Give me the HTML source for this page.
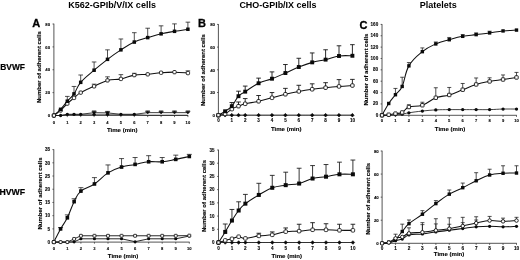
<!DOCTYPE html>
<html><head><meta charset="utf-8"><title>Figure</title>
<style>
html,body{margin:0;padding:0;background:#fff}
svg{display:block}
.t{font-family:"Liberation Sans",sans-serif;font-weight:bold;fill:#000}
</style></head><body>
<svg width="520" height="260" viewBox="0 0 520 260">
<rect width="520" height="260" fill="#fff"/>
<text x="112.1" y="8.0" text-anchor="middle" font-size="9.03" class="t">K562-GPIb/V/IX cells</text>
<text x="277.9" y="8.0" text-anchor="middle" font-size="8.95" class="t">CHO-GPIb/IX cells</text>
<text x="438.3" y="8.0" text-anchor="middle" font-size="9.0" class="t">Platelets</text>
<text x="0.3" y="69.6" font-size="8.4" class="t" stroke="#000" stroke-width="0.2">BVWF</text>
<text x="-0.6" y="194.9" font-size="8.7" class="t" stroke="#000" stroke-width="0.2">HVWF</text>
<path d="M53.9 23.7V115.5H188.2" fill="none" stroke="#2a2a2a" stroke-width="0.8"/>
<path d="M52.5 115.5H53.9" stroke="#2a2a2a" stroke-width="0.7"/>
<text x="50.1" y="117.2" text-anchor="end" font-size="4.3" class="t" stroke="#000" stroke-width="0.1">0</text>
<path d="M52.5 92.62H53.9" stroke="#2a2a2a" stroke-width="0.7"/>
<text x="50.1" y="94.33" text-anchor="end" font-size="4.3" class="t" stroke="#000" stroke-width="0.1">20</text>
<path d="M52.5 69.75H53.9" stroke="#2a2a2a" stroke-width="0.7"/>
<text x="50.1" y="71.45" text-anchor="end" font-size="4.3" class="t" stroke="#000" stroke-width="0.1">40</text>
<path d="M52.5 46.88H53.9" stroke="#2a2a2a" stroke-width="0.7"/>
<text x="50.1" y="48.58" text-anchor="end" font-size="4.3" class="t" stroke="#000" stroke-width="0.1">60</text>
<path d="M52.5 24H53.9" stroke="#2a2a2a" stroke-width="0.7"/>
<text x="50.1" y="25.7" text-anchor="end" font-size="4.3" class="t" stroke="#000" stroke-width="0.1">80</text>
<path d="M53.9 115.5v1.6" stroke="#2a2a2a" stroke-width="0.7"/>
<text x="53.9" y="123.7" text-anchor="middle" font-size="4.1" class="t" stroke="#000" stroke-width="0.1">0</text>
<path d="M67.3 115.5v1.6" stroke="#2a2a2a" stroke-width="0.7"/>
<text x="67.3" y="123.7" text-anchor="middle" font-size="4.1" class="t" stroke="#000" stroke-width="0.1">1</text>
<path d="M80.7 115.5v1.6" stroke="#2a2a2a" stroke-width="0.7"/>
<text x="80.7" y="123.7" text-anchor="middle" font-size="4.1" class="t" stroke="#000" stroke-width="0.1">2</text>
<path d="M94.1 115.5v1.6" stroke="#2a2a2a" stroke-width="0.7"/>
<text x="94.1" y="123.7" text-anchor="middle" font-size="4.1" class="t" stroke="#000" stroke-width="0.1">3</text>
<path d="M107.5 115.5v1.6" stroke="#2a2a2a" stroke-width="0.7"/>
<text x="107.5" y="123.7" text-anchor="middle" font-size="4.1" class="t" stroke="#000" stroke-width="0.1">4</text>
<path d="M120.9 115.5v1.6" stroke="#2a2a2a" stroke-width="0.7"/>
<text x="120.9" y="123.7" text-anchor="middle" font-size="4.1" class="t" stroke="#000" stroke-width="0.1">5</text>
<path d="M134.3 115.5v1.6" stroke="#2a2a2a" stroke-width="0.7"/>
<text x="134.3" y="123.7" text-anchor="middle" font-size="4.1" class="t" stroke="#000" stroke-width="0.1">6</text>
<path d="M147.7 115.5v1.6" stroke="#2a2a2a" stroke-width="0.7"/>
<text x="147.7" y="123.7" text-anchor="middle" font-size="4.1" class="t" stroke="#000" stroke-width="0.1">7</text>
<path d="M161.1 115.5v1.6" stroke="#2a2a2a" stroke-width="0.7"/>
<text x="161.1" y="123.7" text-anchor="middle" font-size="4.1" class="t" stroke="#000" stroke-width="0.1">8</text>
<path d="M174.5 115.5v1.6" stroke="#2a2a2a" stroke-width="0.7"/>
<text x="174.5" y="123.7" text-anchor="middle" font-size="4.1" class="t" stroke="#000" stroke-width="0.1">9</text>
<path d="M187.9 115.5v1.6" stroke="#2a2a2a" stroke-width="0.7"/>
<text x="187.9" y="123.7" text-anchor="middle" font-size="4.1" class="t" stroke="#000" stroke-width="0.1">10</text>
<text x="122.2" y="132.3" text-anchor="middle" font-size="6.05" class="t" stroke="#000" stroke-width="0.12">Time (min)</text>
<text transform="translate(41.4 67.1) rotate(-90)" text-anchor="middle" font-size="6.0" class="t" stroke="#000" stroke-width="0.12">Number of adherent cells</text>
<text x="32.3" y="27.3" font-size="11" class="t" stroke="#000" stroke-width="0.3">A</text>
<path d="M94.1 112.64V110.92M91.9 110.92h4.4" fill="none" stroke="#151515" stroke-width="0.75"/>
<path d="M107.5 112.87V111.38M105.3 111.38h4.4" fill="none" stroke="#151515" stroke-width="0.75"/>
<path d="M147.7 112.64V110.92M145.5 110.92h4.4" fill="none" stroke="#151515" stroke-width="0.75"/>
<path d="M161.1 112.64V110.92M158.9 110.92h4.4" fill="none" stroke="#151515" stroke-width="0.75"/>
<path d="M174.5 112.64V110.92M172.3 110.92h4.4" fill="none" stroke="#151515" stroke-width="0.75"/>
<path d="M187.9 112.64V110.92M185.7 110.92h4.4" fill="none" stroke="#151515" stroke-width="0.75"/>
<polyline points="53.9,115.5 60.6,115.5 67.3,114.36 74,114.36 80.7,114.36 94.1,112.64 107.5,112.87 120.9,114.36 134.3,114.36 147.7,112.64 161.1,112.64 174.5,112.64 187.9,112.64" fill="none" stroke="#111" stroke-width="0.8" stroke-linejoin="round"/>
<path d="M91.9 111.6H96.3L94.1 113.94Z" fill="#0a0a0a" stroke="#0a0a0a" stroke-width="0.5" stroke-linejoin="round"/>
<path d="M105.3 111.83H109.7L107.5 114.17Z" fill="#0a0a0a" stroke="#0a0a0a" stroke-width="0.5" stroke-linejoin="round"/>
<path d="M145.5 111.6H149.9L147.7 113.94Z" fill="#0a0a0a" stroke="#0a0a0a" stroke-width="0.5" stroke-linejoin="round"/>
<path d="M158.9 111.6H163.3L161.1 113.94Z" fill="#0a0a0a" stroke="#0a0a0a" stroke-width="0.5" stroke-linejoin="round"/>
<path d="M172.3 111.6H176.7L174.5 113.94Z" fill="#0a0a0a" stroke="#0a0a0a" stroke-width="0.5" stroke-linejoin="round"/>
<path d="M185.7 111.6H190.1L187.9 113.94Z" fill="#0a0a0a" stroke="#0a0a0a" stroke-width="0.5" stroke-linejoin="round"/>
<polyline points="53.9,115.5 60.6,115.5 67.3,114.36 74,114.36 80.7,114.36 94.1,114.36 107.5,114.36 120.9,114.36 134.3,114.36 147.7,115.16 161.1,115.16 174.5,115.16 187.9,115.16" fill="none" stroke="#111" stroke-width="0.6" stroke-linejoin="round"/>
<circle cx="53.9" cy="115.5" r="1.65" fill="#0a0a0a"/>
<circle cx="60.6" cy="115.5" r="1.65" fill="#0a0a0a"/>
<circle cx="67.3" cy="114.36" r="1.65" fill="#0a0a0a"/>
<circle cx="74" cy="114.36" r="1.65" fill="#0a0a0a"/>
<circle cx="80.7" cy="114.36" r="1.65" fill="#0a0a0a"/>
<circle cx="94.1" cy="114.36" r="1.65" fill="#0a0a0a"/>
<circle cx="107.5" cy="114.36" r="1.65" fill="#0a0a0a"/>
<circle cx="120.9" cy="114.36" r="1.65" fill="#0a0a0a"/>
<circle cx="134.3" cy="114.36" r="1.65" fill="#0a0a0a"/>
<path d="M94.1 86.33V84.16M91.8 84.16h4.6" fill="none" stroke="#151515" stroke-width="0.75"/>
<path d="M107.5 80.39V76.84M105.2 76.84h4.6" fill="none" stroke="#151515" stroke-width="0.75"/>
<path d="M120.9 78.9V74.67M118.6 74.67h4.6" fill="none" stroke="#151515" stroke-width="0.75"/>
<path d="M134.3 75.13V73.3M132 73.3h4.6" fill="none" stroke="#151515" stroke-width="0.75"/>
<path d="M187.9 73.07V70.89M185.6 70.89h4.6" fill="none" stroke="#151515" stroke-width="0.75"/>
<path d="M53.9 115.5C55.24 114.49 57.92 112.85 60.6 110.47C63.28 108.09 64.62 106.12 67.3 103.61C69.98 101.09 71.32 100.08 74 97.89C76.68 95.69 76.68 94.94 80.7 92.62C84.72 90.31 88.74 88.78 94.1 86.33C99.46 83.89 102.14 81.87 107.5 80.39C112.86 78.9 115.54 79.95 120.9 78.9C126.26 77.85 128.94 76.04 134.3 75.13C139.66 74.21 142.34 74.81 147.7 74.32C153.06 73.84 155.74 73.16 161.1 72.72C166.46 72.29 169.14 72.08 174.5 72.15C179.86 72.22 185.22 72.88 187.9 73.07" fill="none" stroke="#111" stroke-width="1.05" stroke-linejoin="round"/>
<rect x="52.25" y="113.85" width="3.3" height="3.3" rx="0.9" fill="#fff" stroke="#111" stroke-width="0.9"/>
<rect x="58.95" y="108.82" width="3.3" height="3.3" rx="0.9" fill="#fff" stroke="#111" stroke-width="0.9"/>
<rect x="65.65" y="101.95" width="3.3" height="3.3" rx="0.9" fill="#fff" stroke="#111" stroke-width="0.9"/>
<rect x="72.35" y="96.24" width="3.3" height="3.3" rx="0.9" fill="#fff" stroke="#111" stroke-width="0.9"/>
<rect x="79.05" y="90.97" width="3.3" height="3.3" rx="0.9" fill="#fff" stroke="#111" stroke-width="0.9"/>
<rect x="92.45" y="84.68" width="3.3" height="3.3" rx="0.9" fill="#fff" stroke="#111" stroke-width="0.9"/>
<rect x="105.85" y="78.74" width="3.3" height="3.3" rx="0.9" fill="#fff" stroke="#111" stroke-width="0.9"/>
<rect x="119.25" y="77.25" width="3.3" height="3.3" rx="0.9" fill="#fff" stroke="#111" stroke-width="0.9"/>
<rect x="132.65" y="73.48" width="3.3" height="3.3" rx="0.9" fill="#fff" stroke="#111" stroke-width="0.9"/>
<rect x="146.05" y="72.67" width="3.3" height="3.3" rx="0.9" fill="#fff" stroke="#111" stroke-width="0.9"/>
<rect x="159.45" y="71.07" width="3.3" height="3.3" rx="0.9" fill="#fff" stroke="#111" stroke-width="0.9"/>
<rect x="172.85" y="70.5" width="3.3" height="3.3" rx="0.9" fill="#fff" stroke="#111" stroke-width="0.9"/>
<rect x="186.25" y="71.42" width="3.3" height="3.3" rx="0.9" fill="#fff" stroke="#111" stroke-width="0.9"/>
<path d="M67.3 101.2V96.4M65 96.4h4.6" fill="none" stroke="#151515" stroke-width="0.75"/>
<path d="M74 93.88V86.45M71.7 86.45h4.6" fill="none" stroke="#151515" stroke-width="0.75"/>
<path d="M80.7 82.33V75.01M78.4 75.01h4.6" fill="none" stroke="#151515" stroke-width="0.75"/>
<path d="M94.1 70.21V61.97M91.8 61.97h4.6" fill="none" stroke="#151515" stroke-width="0.75"/>
<path d="M107.5 59.34V49.85M105.2 49.85h4.6" fill="none" stroke="#151515" stroke-width="0.75"/>
<path d="M120.9 49.85V38.98M118.6 38.98h4.6" fill="none" stroke="#151515" stroke-width="0.75"/>
<path d="M134.3 42.07V32.69M132 32.69h4.6" fill="none" stroke="#151515" stroke-width="0.75"/>
<path d="M147.7 37.61V28.23M145.4 28.23h4.6" fill="none" stroke="#151515" stroke-width="0.75"/>
<path d="M161.1 33.84V25.83M158.8 25.83h4.6" fill="none" stroke="#151515" stroke-width="0.75"/>
<path d="M174.5 31.32V23.89M172.2 23.89h4.6" fill="none" stroke="#151515" stroke-width="0.75"/>
<path d="M187.9 29.26V22.17M185.6 22.17h4.6" fill="none" stroke="#151515" stroke-width="0.75"/>
<path d="M53.9 115.5C55.24 114.26 57.92 112.18 60.6 109.32C63.28 106.46 64.62 104.29 67.3 101.2C69.98 98.11 71.32 97.66 74 93.88C76.68 90.11 76.68 87.07 80.7 82.33C84.72 77.6 88.74 74.81 94.1 70.21C99.46 65.61 102.14 63.41 107.5 59.34C112.86 55.27 115.54 53.3 120.9 49.85C126.26 46.39 128.94 44.52 134.3 42.07C139.66 39.62 142.34 39.26 147.7 37.61C153.06 35.96 155.74 35.09 161.1 33.84C166.46 32.58 169.14 32.24 174.5 31.32C179.86 30.41 185.22 29.67 187.9 29.26" fill="none" stroke="#111" stroke-width="1.05" stroke-linejoin="round"/>
<rect x="52.15" y="113.75" width="3.5" height="3.5" fill="#0a0a0a"/>
<rect x="58.85" y="107.57" width="3.5" height="3.5" fill="#0a0a0a"/>
<rect x="65.55" y="99.45" width="3.5" height="3.5" fill="#0a0a0a"/>
<rect x="72.25" y="92.13" width="3.5" height="3.5" fill="#0a0a0a"/>
<rect x="78.95" y="80.58" width="3.5" height="3.5" fill="#0a0a0a"/>
<rect x="92.35" y="68.46" width="3.5" height="3.5" fill="#0a0a0a"/>
<rect x="105.75" y="57.59" width="3.5" height="3.5" fill="#0a0a0a"/>
<rect x="119.15" y="48.1" width="3.5" height="3.5" fill="#0a0a0a"/>
<rect x="132.55" y="40.32" width="3.5" height="3.5" fill="#0a0a0a"/>
<rect x="145.95" y="35.86" width="3.5" height="3.5" fill="#0a0a0a"/>
<rect x="159.35" y="32.09" width="3.5" height="3.5" fill="#0a0a0a"/>
<rect x="172.75" y="29.57" width="3.5" height="3.5" fill="#0a0a0a"/>
<rect x="186.15" y="27.51" width="3.5" height="3.5" fill="#0a0a0a"/>
<rect x="52.3" y="113.9" width="3.2" height="3.2" rx="0.7" fill="#fff" stroke="#111" stroke-width="0.9"/>
<path d="M218.4 24.1V115.2H352.7" fill="none" stroke="#2a2a2a" stroke-width="0.8"/>
<path d="M217 115.2H218.4" stroke="#2a2a2a" stroke-width="0.7"/>
<text x="215" y="116.9" text-anchor="end" font-size="4.3" class="t" stroke="#000" stroke-width="0.1">0</text>
<path d="M217 92.5H218.4" stroke="#2a2a2a" stroke-width="0.7"/>
<text x="215" y="94.2" text-anchor="end" font-size="4.3" class="t" stroke="#000" stroke-width="0.1">20</text>
<path d="M217 69.8H218.4" stroke="#2a2a2a" stroke-width="0.7"/>
<text x="215" y="71.5" text-anchor="end" font-size="4.3" class="t" stroke="#000" stroke-width="0.1">40</text>
<path d="M217 47.1H218.4" stroke="#2a2a2a" stroke-width="0.7"/>
<text x="215" y="48.8" text-anchor="end" font-size="4.3" class="t" stroke="#000" stroke-width="0.1">60</text>
<path d="M217 24.4H218.4" stroke="#2a2a2a" stroke-width="0.7"/>
<text x="215" y="26.1" text-anchor="end" font-size="4.3" class="t" stroke="#000" stroke-width="0.1">80</text>
<path d="M218.4 115.2v1.6" stroke="#2a2a2a" stroke-width="0.7"/>
<text x="218.4" y="122.4" text-anchor="middle" font-size="4.5" class="t" stroke="#000" stroke-width="0.1">0</text>
<path d="M231.8 115.2v1.6" stroke="#2a2a2a" stroke-width="0.7"/>
<text x="231.8" y="122.4" text-anchor="middle" font-size="4.5" class="t" stroke="#000" stroke-width="0.1">1</text>
<path d="M245.2 115.2v1.6" stroke="#2a2a2a" stroke-width="0.7"/>
<text x="245.2" y="122.4" text-anchor="middle" font-size="4.5" class="t" stroke="#000" stroke-width="0.1">2</text>
<path d="M258.6 115.2v1.6" stroke="#2a2a2a" stroke-width="0.7"/>
<text x="258.6" y="122.4" text-anchor="middle" font-size="4.5" class="t" stroke="#000" stroke-width="0.1">3</text>
<path d="M272 115.2v1.6" stroke="#2a2a2a" stroke-width="0.7"/>
<text x="272" y="122.4" text-anchor="middle" font-size="4.5" class="t" stroke="#000" stroke-width="0.1">4</text>
<path d="M285.4 115.2v1.6" stroke="#2a2a2a" stroke-width="0.7"/>
<text x="285.4" y="122.4" text-anchor="middle" font-size="4.5" class="t" stroke="#000" stroke-width="0.1">5</text>
<path d="M298.8 115.2v1.6" stroke="#2a2a2a" stroke-width="0.7"/>
<text x="298.8" y="122.4" text-anchor="middle" font-size="4.5" class="t" stroke="#000" stroke-width="0.1">6</text>
<path d="M312.2 115.2v1.6" stroke="#2a2a2a" stroke-width="0.7"/>
<text x="312.2" y="122.4" text-anchor="middle" font-size="4.5" class="t" stroke="#000" stroke-width="0.1">7</text>
<path d="M325.6 115.2v1.6" stroke="#2a2a2a" stroke-width="0.7"/>
<text x="325.6" y="122.4" text-anchor="middle" font-size="4.5" class="t" stroke="#000" stroke-width="0.1">8</text>
<path d="M339 115.2v1.6" stroke="#2a2a2a" stroke-width="0.7"/>
<text x="339" y="122.4" text-anchor="middle" font-size="4.5" class="t" stroke="#000" stroke-width="0.1">9</text>
<path d="M352.4 115.2v1.6" stroke="#2a2a2a" stroke-width="0.7"/>
<text x="352.4" y="122.4" text-anchor="middle" font-size="4.5" class="t" stroke="#000" stroke-width="0.1">10</text>
<text x="286.2" y="131.1" text-anchor="middle" font-size="6.05" class="t" stroke="#000" stroke-width="0.12">Time (min)</text>
<text transform="translate(204.9 70.1) rotate(-90)" text-anchor="middle" font-size="6.0" class="t" stroke="#000" stroke-width="0.12">Number of adherent cells</text>
<text x="198" y="26.8" font-size="11" class="t" stroke="#000" stroke-width="0.3">B</text>
<path d="M218.4 115.2C219.74 115.2 222.42 115.2 225.1 115.2C227.78 115.2 229.12 115.2 231.8 115.2C234.48 115.2 235.82 115.2 238.5 115.2C241.18 115.2 241.18 115.2 245.2 115.2C249.22 115.2 253.24 115.2 258.6 115.2C263.96 115.2 266.64 115.2 272 115.2C277.36 115.2 280.04 115.2 285.4 115.2C290.76 115.2 293.44 115.2 298.8 115.2C304.16 115.2 306.84 115.2 312.2 115.2C317.56 115.2 320.24 115.2 325.6 115.2C330.96 115.2 333.64 115.2 339 115.2C344.36 115.2 349.72 115.2 352.4 115.2" fill="none" stroke="#111" stroke-width="0.5" stroke-linejoin="round"/>
<path d="M216.55 115.2L218.4 113.35L220.25 115.2L218.4 117.05Z" fill="#0a0a0a" stroke="#0a0a0a" stroke-width="0.5" stroke-linejoin="round"/>
<path d="M223.25 115.2L225.1 113.35L226.95 115.2L225.1 117.05Z" fill="#0a0a0a" stroke="#0a0a0a" stroke-width="0.5" stroke-linejoin="round"/>
<path d="M229.95 115.2L231.8 113.35L233.65 115.2L231.8 117.05Z" fill="#0a0a0a" stroke="#0a0a0a" stroke-width="0.5" stroke-linejoin="round"/>
<path d="M236.65 115.2L238.5 113.35L240.35 115.2L238.5 117.05Z" fill="#0a0a0a" stroke="#0a0a0a" stroke-width="0.5" stroke-linejoin="round"/>
<path d="M243.35 115.2L245.2 113.35L247.05 115.2L245.2 117.05Z" fill="#0a0a0a" stroke="#0a0a0a" stroke-width="0.5" stroke-linejoin="round"/>
<path d="M256.75 115.2L258.6 113.35L260.45 115.2L258.6 117.05Z" fill="#0a0a0a" stroke="#0a0a0a" stroke-width="0.5" stroke-linejoin="round"/>
<path d="M270.15 115.2L272 113.35L273.85 115.2L272 117.05Z" fill="#0a0a0a" stroke="#0a0a0a" stroke-width="0.5" stroke-linejoin="round"/>
<path d="M283.55 115.2L285.4 113.35L287.25 115.2L285.4 117.05Z" fill="#0a0a0a" stroke="#0a0a0a" stroke-width="0.5" stroke-linejoin="round"/>
<path d="M296.95 115.2L298.8 113.35L300.65 115.2L298.8 117.05Z" fill="#0a0a0a" stroke="#0a0a0a" stroke-width="0.5" stroke-linejoin="round"/>
<path d="M310.35 115.2L312.2 113.35L314.05 115.2L312.2 117.05Z" fill="#0a0a0a" stroke="#0a0a0a" stroke-width="0.5" stroke-linejoin="round"/>
<path d="M323.75 115.2L325.6 113.35L327.45 115.2L325.6 117.05Z" fill="#0a0a0a" stroke="#0a0a0a" stroke-width="0.5" stroke-linejoin="round"/>
<path d="M337.15 115.2L339 113.35L340.85 115.2L339 117.05Z" fill="#0a0a0a" stroke="#0a0a0a" stroke-width="0.5" stroke-linejoin="round"/>
<path d="M350.55 115.2L352.4 113.35L354.25 115.2L352.4 117.05Z" fill="#0a0a0a" stroke="#0a0a0a" stroke-width="0.5" stroke-linejoin="round"/>
<path d="M238.5 106.18V101.98M236.2 101.98h4.6" fill="none" stroke="#151515" stroke-width="0.9"/>
<path d="M245.2 103.79V98.57M242.9 98.57h4.6" fill="none" stroke="#151515" stroke-width="0.9"/>
<path d="M258.6 101.3V95.51M256.3 95.51h4.6" fill="none" stroke="#151515" stroke-width="0.9"/>
<path d="M272 97.78V92.56M269.7 92.56h4.6" fill="none" stroke="#151515" stroke-width="0.9"/>
<path d="M285.4 94.26V88.36M283.1 88.36h4.6" fill="none" stroke="#151515" stroke-width="0.9"/>
<path d="M298.8 91.42V85.29M296.5 85.29h4.6" fill="none" stroke="#151515" stroke-width="0.9"/>
<path d="M312.2 89.27V83.82M309.9 83.82h4.6" fill="none" stroke="#151515" stroke-width="0.9"/>
<path d="M325.6 87.68V82.68M323.3 82.68h4.6" fill="none" stroke="#151515" stroke-width="0.9"/>
<path d="M339 86.43V79.62M336.7 79.62h4.6" fill="none" stroke="#151515" stroke-width="0.9"/>
<path d="M352.4 85.52V79.39M350.1 79.39h4.6" fill="none" stroke="#151515" stroke-width="0.9"/>
<path d="M218.4 115.2C219.74 114.94 222.42 115.11 225.1 113.89C227.78 112.68 229.12 110.67 231.8 109.13C234.48 107.58 235.82 107.24 238.5 106.18C241.18 105.11 241.18 104.77 245.2 103.79C249.22 102.82 253.24 102.5 258.6 101.3C263.96 100.09 266.64 99.19 272 97.78C277.36 96.37 280.04 95.53 285.4 94.26C290.76 92.99 293.44 92.42 298.8 91.42C304.16 90.42 306.84 90.01 312.2 89.27C317.56 88.52 320.24 88.24 325.6 87.68C330.96 87.11 333.64 86.86 339 86.43C344.36 86 349.72 85.7 352.4 85.52" fill="none" stroke="#111" stroke-width="1.05" stroke-linejoin="round"/>
<rect x="216.65" y="113.45" width="3.5" height="3.5" rx="1.0" fill="#fff" stroke="#111" stroke-width="0.9"/>
<rect x="223.35" y="112.14" width="3.5" height="3.5" rx="1.0" fill="#fff" stroke="#111" stroke-width="0.9"/>
<rect x="230.05" y="107.38" width="3.5" height="3.5" rx="1.0" fill="#fff" stroke="#111" stroke-width="0.9"/>
<rect x="236.75" y="104.43" width="3.5" height="3.5" rx="1.0" fill="#fff" stroke="#111" stroke-width="0.9"/>
<rect x="243.45" y="102.04" width="3.5" height="3.5" rx="1.0" fill="#fff" stroke="#111" stroke-width="0.9"/>
<rect x="256.85" y="99.55" width="3.5" height="3.5" rx="1.0" fill="#fff" stroke="#111" stroke-width="0.9"/>
<rect x="270.25" y="96.03" width="3.5" height="3.5" rx="1.0" fill="#fff" stroke="#111" stroke-width="0.9"/>
<rect x="283.65" y="92.51" width="3.5" height="3.5" rx="1.0" fill="#fff" stroke="#111" stroke-width="0.9"/>
<rect x="297.05" y="89.67" width="3.5" height="3.5" rx="1.0" fill="#fff" stroke="#111" stroke-width="0.9"/>
<rect x="310.45" y="87.52" width="3.5" height="3.5" rx="1.0" fill="#fff" stroke="#111" stroke-width="0.9"/>
<rect x="323.85" y="85.93" width="3.5" height="3.5" rx="1.0" fill="#fff" stroke="#111" stroke-width="0.9"/>
<rect x="337.25" y="84.68" width="3.5" height="3.5" rx="1.0" fill="#fff" stroke="#111" stroke-width="0.9"/>
<rect x="350.65" y="83.77" width="3.5" height="3.5" rx="1.0" fill="#fff" stroke="#111" stroke-width="0.9"/>
<path d="M231.8 106.18V102.54M229.5 102.54h4.6" fill="none" stroke="#151515" stroke-width="0.9"/>
<path d="M238.5 96.19V91.19M236.2 91.19h4.6" fill="none" stroke="#151515" stroke-width="0.9"/>
<path d="M245.2 91.65V86.09M242.9 86.09h4.6" fill="none" stroke="#151515" stroke-width="0.9"/>
<path d="M258.6 83.25V78.14M256.3 78.14h4.6" fill="none" stroke="#151515" stroke-width="0.9"/>
<path d="M272 78.71V71.9M269.7 71.9h4.6" fill="none" stroke="#151515" stroke-width="0.9"/>
<path d="M285.4 73.03V64.52M283.1 64.52h4.6" fill="none" stroke="#151515" stroke-width="0.9"/>
<path d="M298.8 67.02V58.28M296.5 58.28h4.6" fill="none" stroke="#151515" stroke-width="0.9"/>
<path d="M312.2 62.37V52.95M309.9 52.95h4.6" fill="none" stroke="#151515" stroke-width="0.9"/>
<path d="M325.6 59.64V49.77M323.3 49.77h4.6" fill="none" stroke="#151515" stroke-width="0.9"/>
<path d="M339 56.01V45.79M336.7 45.79h4.6" fill="none" stroke="#151515" stroke-width="0.9"/>
<path d="M352.4 55.78V44.66M350.1 44.66h4.6" fill="none" stroke="#151515" stroke-width="0.9"/>
<path d="M218.4 115.2C219.74 114.42 222.42 113.09 225.1 111.28C227.78 109.48 229.12 109.2 231.8 106.18C234.48 103.16 235.82 99.09 238.5 96.19C241.18 93.28 241.18 94.24 245.2 91.65C249.22 89.06 253.24 85.84 258.6 83.25C263.96 80.66 266.64 80.75 272 78.71C277.36 76.67 280.04 75.37 285.4 73.03C290.76 70.7 293.44 69.15 298.8 67.02C304.16 64.89 306.84 63.84 312.2 62.37C317.56 60.89 320.24 60.91 325.6 59.64C330.96 58.37 333.64 56.78 339 56.01C344.36 55.24 349.72 55.83 352.4 55.78" fill="none" stroke="#111" stroke-width="1.05" stroke-linejoin="round"/>
<rect x="216.45" y="113.25" width="3.9" height="3.9" fill="#0a0a0a"/>
<rect x="223.15" y="109.33" width="3.9" height="3.9" fill="#0a0a0a"/>
<rect x="229.85" y="104.23" width="3.9" height="3.9" fill="#0a0a0a"/>
<rect x="236.55" y="94.24" width="3.9" height="3.9" fill="#0a0a0a"/>
<rect x="243.25" y="89.7" width="3.9" height="3.9" fill="#0a0a0a"/>
<rect x="256.65" y="81.3" width="3.9" height="3.9" fill="#0a0a0a"/>
<rect x="270.05" y="76.76" width="3.9" height="3.9" fill="#0a0a0a"/>
<rect x="283.45" y="71.08" width="3.9" height="3.9" fill="#0a0a0a"/>
<rect x="296.85" y="65.07" width="3.9" height="3.9" fill="#0a0a0a"/>
<rect x="310.25" y="60.42" width="3.9" height="3.9" fill="#0a0a0a"/>
<rect x="323.65" y="57.69" width="3.9" height="3.9" fill="#0a0a0a"/>
<rect x="337.05" y="54.06" width="3.9" height="3.9" fill="#0a0a0a"/>
<rect x="350.45" y="53.83" width="3.9" height="3.9" fill="#0a0a0a"/>
<rect x="216.8" y="113.6" width="3.2" height="3.2" rx="0.7" fill="#fff" stroke="#111" stroke-width="0.9"/>
<path d="M382 24.1V115.3H516.8" fill="none" stroke="#2a2a2a" stroke-width="0.8"/>
<path d="M380.6 115.3H382" stroke="#2a2a2a" stroke-width="0.7"/>
<text x="378.2" y="116.7" text-anchor="end" font-size="4.6" class="t" stroke="#000" stroke-width="0.1">0</text>
<path d="M380.6 103.94H382" stroke="#2a2a2a" stroke-width="0.7"/>
<text x="378.2" y="105.34" text-anchor="end" font-size="4.6" class="t" stroke="#000" stroke-width="0.1">20</text>
<path d="M380.6 92.57H382" stroke="#2a2a2a" stroke-width="0.7"/>
<text x="378.2" y="93.97" text-anchor="end" font-size="4.6" class="t" stroke="#000" stroke-width="0.1">40</text>
<path d="M380.6 81.21H382" stroke="#2a2a2a" stroke-width="0.7"/>
<text x="378.2" y="82.61" text-anchor="end" font-size="4.6" class="t" stroke="#000" stroke-width="0.1">60</text>
<path d="M380.6 69.85H382" stroke="#2a2a2a" stroke-width="0.7"/>
<text x="378.2" y="71.25" text-anchor="end" font-size="4.6" class="t" stroke="#000" stroke-width="0.1">80</text>
<path d="M380.6 58.49H382" stroke="#2a2a2a" stroke-width="0.7"/>
<text x="378.2" y="59.89" text-anchor="end" font-size="4.6" class="t" stroke="#000" stroke-width="0.1">100</text>
<path d="M380.6 47.12H382" stroke="#2a2a2a" stroke-width="0.7"/>
<text x="378.2" y="48.52" text-anchor="end" font-size="4.6" class="t" stroke="#000" stroke-width="0.1">120</text>
<path d="M380.6 35.76H382" stroke="#2a2a2a" stroke-width="0.7"/>
<text x="378.2" y="37.16" text-anchor="end" font-size="4.6" class="t" stroke="#000" stroke-width="0.1">140</text>
<path d="M380.6 24.4H382" stroke="#2a2a2a" stroke-width="0.7"/>
<text x="378.2" y="25.8" text-anchor="end" font-size="4.6" class="t" stroke="#000" stroke-width="0.1">160</text>
<path d="M382 115.3v1.6" stroke="#2a2a2a" stroke-width="0.7"/>
<text x="382" y="121.8" text-anchor="middle" font-size="4.1" class="t" stroke="#000" stroke-width="0.1">0</text>
<path d="M395.45 115.3v1.6" stroke="#2a2a2a" stroke-width="0.7"/>
<text x="395.45" y="121.8" text-anchor="middle" font-size="4.1" class="t" stroke="#000" stroke-width="0.1">1</text>
<path d="M408.9 115.3v1.6" stroke="#2a2a2a" stroke-width="0.7"/>
<text x="408.9" y="121.8" text-anchor="middle" font-size="4.1" class="t" stroke="#000" stroke-width="0.1">2</text>
<path d="M422.35 115.3v1.6" stroke="#2a2a2a" stroke-width="0.7"/>
<text x="422.35" y="121.8" text-anchor="middle" font-size="4.1" class="t" stroke="#000" stroke-width="0.1">3</text>
<path d="M435.8 115.3v1.6" stroke="#2a2a2a" stroke-width="0.7"/>
<text x="435.8" y="121.8" text-anchor="middle" font-size="4.1" class="t" stroke="#000" stroke-width="0.1">4</text>
<path d="M449.25 115.3v1.6" stroke="#2a2a2a" stroke-width="0.7"/>
<text x="449.25" y="121.8" text-anchor="middle" font-size="4.1" class="t" stroke="#000" stroke-width="0.1">5</text>
<path d="M462.7 115.3v1.6" stroke="#2a2a2a" stroke-width="0.7"/>
<text x="462.7" y="121.8" text-anchor="middle" font-size="4.1" class="t" stroke="#000" stroke-width="0.1">6</text>
<path d="M476.15 115.3v1.6" stroke="#2a2a2a" stroke-width="0.7"/>
<text x="476.15" y="121.8" text-anchor="middle" font-size="4.1" class="t" stroke="#000" stroke-width="0.1">7</text>
<path d="M489.6 115.3v1.6" stroke="#2a2a2a" stroke-width="0.7"/>
<text x="489.6" y="121.8" text-anchor="middle" font-size="4.1" class="t" stroke="#000" stroke-width="0.1">8</text>
<path d="M503.05 115.3v1.6" stroke="#2a2a2a" stroke-width="0.7"/>
<text x="503.05" y="121.8" text-anchor="middle" font-size="4.1" class="t" stroke="#000" stroke-width="0.1">9</text>
<path d="M516.5 115.3v1.6" stroke="#2a2a2a" stroke-width="0.7"/>
<text x="516.5" y="121.8" text-anchor="middle" font-size="4.1" class="t" stroke="#000" stroke-width="0.1">10</text>
<text x="450.05" y="131.1" text-anchor="middle" font-size="6.05" class="t" stroke="#000" stroke-width="0.12">Time (min)</text>
<text transform="translate(368.2 69.6) rotate(-90)" text-anchor="middle" font-size="6.0" class="t" stroke="#000" stroke-width="0.12">Number of adherent cells</text>
<text x="359.5" y="28.9" font-size="11" class="t" stroke="#000" stroke-width="0.3">C</text>
<path d="M382 115.3C383.35 115.3 386.04 115.41 388.73 115.3C391.42 115.19 392.76 114.96 395.45 114.73C398.14 114.5 399.49 114.55 402.18 114.16C404.87 113.78 404.86 113.43 408.9 112.8C412.94 112.18 416.97 111.62 422.35 111.04C427.73 110.46 430.42 110.19 435.8 109.9C441.18 109.62 443.87 109.68 449.25 109.62C454.63 109.56 457.32 109.62 462.7 109.62C468.08 109.62 470.77 109.62 476.15 109.62C481.53 109.62 484.22 109.73 489.6 109.62C494.98 109.51 497.67 109.16 503.05 109.05C508.43 108.94 513.81 109.05 516.5 109.05" fill="none" stroke="#111" stroke-width="0.8" stroke-linejoin="round"/>
<circle cx="382" cy="115.3" r="1.65" fill="#0a0a0a"/>
<circle cx="388.73" cy="115.3" r="1.65" fill="#0a0a0a"/>
<circle cx="395.45" cy="114.73" r="1.65" fill="#0a0a0a"/>
<circle cx="402.18" cy="114.16" r="1.65" fill="#0a0a0a"/>
<circle cx="408.9" cy="112.8" r="1.65" fill="#0a0a0a"/>
<circle cx="422.35" cy="111.04" r="1.65" fill="#0a0a0a"/>
<circle cx="435.8" cy="109.9" r="1.65" fill="#0a0a0a"/>
<circle cx="449.25" cy="109.62" r="1.65" fill="#0a0a0a"/>
<circle cx="462.7" cy="109.62" r="1.65" fill="#0a0a0a"/>
<circle cx="476.15" cy="109.62" r="1.65" fill="#0a0a0a"/>
<circle cx="489.6" cy="109.62" r="1.65" fill="#0a0a0a"/>
<circle cx="503.05" cy="109.05" r="1.65" fill="#0a0a0a"/>
<circle cx="516.5" cy="109.05" r="1.65" fill="#0a0a0a"/>
<path d="M408.9 107.01V104.79M406.9 104.79h4" fill="none" stroke="#151515" stroke-width="0.75"/>
<path d="M422.35 105.24V102.23M420.35 102.23h4" fill="none" stroke="#151515" stroke-width="0.75"/>
<path d="M435.8 97.74V87.75M433.8 87.75h4" fill="none" stroke="#151515" stroke-width="0.75"/>
<path d="M449.25 94.96V87.46M447.25 87.46h4" fill="none" stroke="#151515" stroke-width="0.75"/>
<path d="M462.7 89.73V83.48M460.7 83.48h4" fill="none" stroke="#151515" stroke-width="0.75"/>
<path d="M476.15 84.45V77.97M474.15 77.97h4" fill="none" stroke="#151515" stroke-width="0.75"/>
<path d="M489.6 81.44V77.8M487.6 77.8h4" fill="none" stroke="#151515" stroke-width="0.75"/>
<path d="M503.05 79.51V74.96M501.05 74.96h4" fill="none" stroke="#151515" stroke-width="0.75"/>
<path d="M516.5 77.46V72.41M514.5 72.41h4" fill="none" stroke="#151515" stroke-width="0.75"/>
<path d="M382 115.3C383.35 115.19 386.04 115.07 388.73 114.73C391.42 114.39 392.76 114.05 395.45 113.6C398.14 113.14 399.49 113.78 402.18 112.46C404.87 111.14 404.86 108.45 408.9 107.01C412.94 105.56 416.97 107.1 422.35 105.24C427.73 103.39 430.42 99.8 435.8 97.74C441.18 95.69 443.87 96.56 449.25 94.96C454.63 93.36 457.32 91.84 462.7 89.73C468.08 87.63 470.77 86.11 476.15 84.45C481.53 82.79 484.22 82.43 489.6 81.44C494.98 80.45 497.67 80.3 503.05 79.51C508.43 78.71 513.81 77.87 516.5 77.46" fill="none" stroke="#111" stroke-width="1.05" stroke-linejoin="round"/>
<rect x="380.3" y="113.6" width="3.4" height="3.4" rx="0.5" fill="#fff" stroke="#111" stroke-width="0.9"/>
<rect x="387.03" y="113.03" width="3.4" height="3.4" rx="0.5" fill="#fff" stroke="#111" stroke-width="0.9"/>
<rect x="393.75" y="111.9" width="3.4" height="3.4" rx="0.5" fill="#fff" stroke="#111" stroke-width="0.9"/>
<rect x="400.48" y="110.76" width="3.4" height="3.4" rx="0.5" fill="#fff" stroke="#111" stroke-width="0.9"/>
<rect x="407.2" y="105.31" width="3.4" height="3.4" rx="0.5" fill="#fff" stroke="#111" stroke-width="0.9"/>
<rect x="420.65" y="103.54" width="3.4" height="3.4" rx="0.5" fill="#fff" stroke="#111" stroke-width="0.9"/>
<rect x="434.1" y="96.04" width="3.4" height="3.4" rx="0.5" fill="#fff" stroke="#111" stroke-width="0.9"/>
<rect x="447.55" y="93.26" width="3.4" height="3.4" rx="0.5" fill="#fff" stroke="#111" stroke-width="0.9"/>
<rect x="461" y="88.03" width="3.4" height="3.4" rx="0.5" fill="#fff" stroke="#111" stroke-width="0.9"/>
<rect x="474.45" y="82.75" width="3.4" height="3.4" rx="0.5" fill="#fff" stroke="#111" stroke-width="0.9"/>
<rect x="487.9" y="79.74" width="3.4" height="3.4" rx="0.5" fill="#fff" stroke="#111" stroke-width="0.9"/>
<rect x="501.35" y="77.81" width="3.4" height="3.4" rx="0.5" fill="#fff" stroke="#111" stroke-width="0.9"/>
<rect x="514.8" y="75.76" width="3.4" height="3.4" rx="0.5" fill="#fff" stroke="#111" stroke-width="0.9"/>
<path d="M395.45 94.73V88.43M393.45 88.43h4" fill="none" stroke="#151515" stroke-width="0.75"/>
<path d="M402.18 86.44V77.24M400.18 77.24h4" fill="none" stroke="#151515" stroke-width="0.75"/>
<path d="M408.9 65.87V62.58M406.9 62.58h4" fill="none" stroke="#151515" stroke-width="0.75"/>
<path d="M422.35 51.67V47.92M420.35 47.92h4" fill="none" stroke="#151515" stroke-width="0.75"/>
<path d="M435.8 43.94V42.01M433.8 42.01h4" fill="none" stroke="#151515" stroke-width="0.75"/>
<path d="M449.25 39.74V37.47M447.25 37.47h4" fill="none" stroke="#151515" stroke-width="0.75"/>
<path d="M462.7 36.33V34.63M460.7 34.63h4" fill="none" stroke="#151515" stroke-width="0.75"/>
<path d="M476.15 34.63V32.92M474.15 32.92h4" fill="none" stroke="#151515" stroke-width="0.75"/>
<path d="M489.6 32.92V31.22M487.6 31.22h4" fill="none" stroke="#151515" stroke-width="0.75"/>
<path d="M382 115.3C383.35 112.94 386.04 107.6 388.73 103.48C391.42 99.37 392.76 98.14 395.45 94.73C398.14 91.33 399.49 92.21 402.18 86.44C404.87 80.67 404.86 72.83 408.9 65.87C412.94 58.92 416.97 56.06 422.35 51.67C427.73 47.28 430.42 46.33 435.8 43.94C441.18 41.56 443.87 41.26 449.25 39.74C454.63 38.22 457.32 37.35 462.7 36.33C468.08 35.31 470.77 35.31 476.15 34.63C481.53 33.94 484.22 33.66 489.6 32.92C494.98 32.18 497.67 31.5 503.05 30.93C508.43 30.37 513.81 30.25 516.5 30.08" fill="none" stroke="#111" stroke-width="1.05" stroke-linejoin="round"/>
<rect x="380.3" y="113.6" width="3.4" height="3.4" fill="#0a0a0a"/>
<rect x="387.03" y="101.78" width="3.4" height="3.4" fill="#0a0a0a"/>
<rect x="393.75" y="93.03" width="3.4" height="3.4" fill="#0a0a0a"/>
<rect x="400.48" y="84.74" width="3.4" height="3.4" fill="#0a0a0a"/>
<rect x="407.2" y="64.17" width="3.4" height="3.4" fill="#0a0a0a"/>
<rect x="420.65" y="49.97" width="3.4" height="3.4" fill="#0a0a0a"/>
<rect x="434.1" y="42.24" width="3.4" height="3.4" fill="#0a0a0a"/>
<rect x="447.55" y="38.04" width="3.4" height="3.4" fill="#0a0a0a"/>
<rect x="461" y="34.63" width="3.4" height="3.4" fill="#0a0a0a"/>
<rect x="474.45" y="32.93" width="3.4" height="3.4" fill="#0a0a0a"/>
<rect x="487.9" y="31.22" width="3.4" height="3.4" fill="#0a0a0a"/>
<rect x="501.35" y="29.23" width="3.4" height="3.4" fill="#0a0a0a"/>
<rect x="514.8" y="28.38" width="3.4" height="3.4" fill="#0a0a0a"/>
<rect x="380.4" y="113.7" width="3.2" height="3.2" rx="0.7" fill="#fff" stroke="#111" stroke-width="0.9"/>
<path d="M53.8 149.3V242.1H189.6" fill="none" stroke="#2a2a2a" stroke-width="0.8"/>
<path d="M52.4 242.1H53.8" stroke="#2a2a2a" stroke-width="0.7"/>
<text x="50" y="243.8" text-anchor="end" font-size="4.6" class="t" stroke="#000" stroke-width="0.1">0</text>
<path d="M52.4 228.89H53.8" stroke="#2a2a2a" stroke-width="0.7"/>
<text x="50" y="230.59" text-anchor="end" font-size="4.6" class="t" stroke="#000" stroke-width="0.1">5</text>
<path d="M52.4 215.67H53.8" stroke="#2a2a2a" stroke-width="0.7"/>
<text x="50" y="217.37" text-anchor="end" font-size="4.6" class="t" stroke="#000" stroke-width="0.1">10</text>
<path d="M52.4 202.46H53.8" stroke="#2a2a2a" stroke-width="0.7"/>
<text x="50" y="204.16" text-anchor="end" font-size="4.6" class="t" stroke="#000" stroke-width="0.1">15</text>
<path d="M52.4 189.24H53.8" stroke="#2a2a2a" stroke-width="0.7"/>
<text x="50" y="190.94" text-anchor="end" font-size="4.6" class="t" stroke="#000" stroke-width="0.1">20</text>
<path d="M52.4 176.03H53.8" stroke="#2a2a2a" stroke-width="0.7"/>
<text x="50" y="177.73" text-anchor="end" font-size="4.6" class="t" stroke="#000" stroke-width="0.1">25</text>
<path d="M52.4 162.81H53.8" stroke="#2a2a2a" stroke-width="0.7"/>
<text x="50" y="164.51" text-anchor="end" font-size="4.6" class="t" stroke="#000" stroke-width="0.1">30</text>
<path d="M52.4 149.6H53.8" stroke="#2a2a2a" stroke-width="0.7"/>
<text x="50" y="151.3" text-anchor="end" font-size="4.6" class="t" stroke="#000" stroke-width="0.1">35</text>
<path d="M53.8 242.1v1.6" stroke="#2a2a2a" stroke-width="0.7"/>
<text x="53.8" y="249.6" text-anchor="middle" font-size="4.1" class="t" stroke="#000" stroke-width="0.1">0</text>
<path d="M67.35 242.1v1.6" stroke="#2a2a2a" stroke-width="0.7"/>
<text x="67.35" y="249.6" text-anchor="middle" font-size="4.1" class="t" stroke="#000" stroke-width="0.1">1</text>
<path d="M80.9 242.1v1.6" stroke="#2a2a2a" stroke-width="0.7"/>
<text x="80.9" y="249.6" text-anchor="middle" font-size="4.1" class="t" stroke="#000" stroke-width="0.1">2</text>
<path d="M94.45 242.1v1.6" stroke="#2a2a2a" stroke-width="0.7"/>
<text x="94.45" y="249.6" text-anchor="middle" font-size="4.1" class="t" stroke="#000" stroke-width="0.1">3</text>
<path d="M108 242.1v1.6" stroke="#2a2a2a" stroke-width="0.7"/>
<text x="108" y="249.6" text-anchor="middle" font-size="4.1" class="t" stroke="#000" stroke-width="0.1">4</text>
<path d="M121.55 242.1v1.6" stroke="#2a2a2a" stroke-width="0.7"/>
<text x="121.55" y="249.6" text-anchor="middle" font-size="4.1" class="t" stroke="#000" stroke-width="0.1">5</text>
<path d="M135.1 242.1v1.6" stroke="#2a2a2a" stroke-width="0.7"/>
<text x="135.1" y="249.6" text-anchor="middle" font-size="4.1" class="t" stroke="#000" stroke-width="0.1">6</text>
<path d="M148.65 242.1v1.6" stroke="#2a2a2a" stroke-width="0.7"/>
<text x="148.65" y="249.6" text-anchor="middle" font-size="4.1" class="t" stroke="#000" stroke-width="0.1">7</text>
<path d="M162.2 242.1v1.6" stroke="#2a2a2a" stroke-width="0.7"/>
<text x="162.2" y="249.6" text-anchor="middle" font-size="4.1" class="t" stroke="#000" stroke-width="0.1">8</text>
<path d="M175.75 242.1v1.6" stroke="#2a2a2a" stroke-width="0.7"/>
<text x="175.75" y="249.6" text-anchor="middle" font-size="4.1" class="t" stroke="#000" stroke-width="0.1">9</text>
<path d="M189.3 242.1v1.6" stroke="#2a2a2a" stroke-width="0.7"/>
<text x="189.3" y="249.6" text-anchor="middle" font-size="4.1" class="t" stroke="#000" stroke-width="0.1">10</text>
<text x="123.05" y="258.1" text-anchor="middle" font-size="6.05" class="t" stroke="#000" stroke-width="0.12">Time (min)</text>
<text transform="translate(42.3 193.5) rotate(-90)" text-anchor="middle" font-size="6.0" class="t" stroke="#000" stroke-width="0.12">Number of adherent cells</text>
<polyline points="53.8,242.1 60.57,242.1 67.35,242.1 74.12,241.84 80.9,238.8 94.45,238.8 108,238.8 121.55,238.8 135.1,241.7 148.65,238.8 162.2,238.8 175.75,238.8 189.3,236.02" fill="none" stroke="#111" stroke-width="0.9" stroke-linejoin="round"/>
<circle cx="53.8" cy="242.1" r="1.55" fill="#0a0a0a"/>
<circle cx="60.57" cy="242.1" r="1.55" fill="#0a0a0a"/>
<circle cx="67.35" cy="242.1" r="1.55" fill="#0a0a0a"/>
<circle cx="74.12" cy="241.84" r="1.55" fill="#0a0a0a"/>
<circle cx="80.9" cy="238.8" r="1.55" fill="#0a0a0a"/>
<circle cx="94.45" cy="238.8" r="1.55" fill="#0a0a0a"/>
<circle cx="108" cy="238.8" r="1.55" fill="#0a0a0a"/>
<circle cx="121.55" cy="238.8" r="1.55" fill="#0a0a0a"/>
<circle cx="135.1" cy="241.7" r="1.55" fill="#0a0a0a"/>
<circle cx="148.65" cy="238.8" r="1.55" fill="#0a0a0a"/>
<circle cx="162.2" cy="238.8" r="1.55" fill="#0a0a0a"/>
<circle cx="175.75" cy="238.8" r="1.55" fill="#0a0a0a"/>
<circle cx="189.3" cy="236.02" r="1.55" fill="#0a0a0a"/>
<polyline points="53.8,242.1 60.57,242.1 67.35,242.1 74.12,238.93 80.9,235.78 94.45,235.78 108,235.78 121.55,235.78 135.1,235.78 148.65,235.78 162.2,235.78 175.75,235.78 189.3,235.62" fill="none" stroke="#111" stroke-width="0.9" stroke-linejoin="round"/>
<rect x="52.35" y="240.65" width="2.9" height="2.9" rx="0.4" fill="#fff" stroke="#111" stroke-width="0.85"/>
<rect x="59.12" y="240.65" width="2.9" height="2.9" rx="0.4" fill="#fff" stroke="#111" stroke-width="0.85"/>
<rect x="65.9" y="240.65" width="2.9" height="2.9" rx="0.4" fill="#fff" stroke="#111" stroke-width="0.85"/>
<rect x="72.67" y="237.48" width="2.9" height="2.9" rx="0.4" fill="#fff" stroke="#111" stroke-width="0.85"/>
<rect x="79.45" y="234.33" width="2.9" height="2.9" rx="0.4" fill="#fff" stroke="#111" stroke-width="0.85"/>
<rect x="93" y="234.33" width="2.9" height="2.9" rx="0.4" fill="#fff" stroke="#111" stroke-width="0.85"/>
<rect x="106.55" y="234.33" width="2.9" height="2.9" rx="0.4" fill="#fff" stroke="#111" stroke-width="0.85"/>
<rect x="120.1" y="234.33" width="2.9" height="2.9" rx="0.4" fill="#fff" stroke="#111" stroke-width="0.85"/>
<rect x="133.65" y="234.33" width="2.9" height="2.9" rx="0.4" fill="#fff" stroke="#111" stroke-width="0.85"/>
<rect x="147.2" y="234.33" width="2.9" height="2.9" rx="0.4" fill="#fff" stroke="#111" stroke-width="0.85"/>
<rect x="160.75" y="234.33" width="2.9" height="2.9" rx="0.4" fill="#fff" stroke="#111" stroke-width="0.85"/>
<rect x="174.3" y="234.33" width="2.9" height="2.9" rx="0.4" fill="#fff" stroke="#111" stroke-width="0.85"/>
<rect x="187.85" y="234.18" width="2.9" height="2.9" rx="0.4" fill="#fff" stroke="#111" stroke-width="0.85"/>
<path d="M60.57 228.89V227.56M58.07 227.56h5" fill="none" stroke="#151515" stroke-width="0.75"/>
<path d="M67.35 217.79V214.88M64.85 214.88h5" fill="none" stroke="#151515" stroke-width="0.75"/>
<path d="M74.12 201.66V198.76M71.62 198.76h5" fill="none" stroke="#151515" stroke-width="0.75"/>
<path d="M80.9 191.09V187.66M78.4 187.66h5" fill="none" stroke="#151515" stroke-width="0.75"/>
<path d="M94.45 183.96V177.61M91.95 177.61h5" fill="none" stroke="#151515" stroke-width="0.75"/>
<path d="M108 172.86V164.93M105.5 164.93h5" fill="none" stroke="#151515" stroke-width="0.75"/>
<path d="M121.55 167.04V158.59M119.05 158.59h5" fill="none" stroke="#151515" stroke-width="0.75"/>
<path d="M135.1 164.4V157.53M132.6 157.53h5" fill="none" stroke="#151515" stroke-width="0.75"/>
<path d="M148.65 161.76V155.68M146.15 155.68h5" fill="none" stroke="#151515" stroke-width="0.75"/>
<path d="M162.2 161.76V157.53M159.7 157.53h5" fill="none" stroke="#151515" stroke-width="0.75"/>
<path d="M175.75 159.38V155.15M173.25 155.15h5" fill="none" stroke="#151515" stroke-width="0.75"/>
<path d="M189.3 156.47V154.36M186.8 154.36h5" fill="none" stroke="#151515" stroke-width="0.75"/>
<path d="M53.8 242.1C55.15 239.46 57.86 233.75 60.57 228.89C63.28 224.02 64.64 223.23 67.35 217.79C70.06 212.34 71.41 207 74.12 201.66C76.84 196.33 76.84 194.63 80.9 191.09C84.97 187.55 89.03 187.6 94.45 183.96C99.87 180.31 102.58 176.24 108 172.86C113.42 169.47 116.13 168.73 121.55 167.04C126.97 165.35 129.68 165.46 135.1 164.4C140.52 163.34 143.23 162.29 148.65 161.76C154.07 161.23 156.78 162.23 162.2 161.76C167.62 161.28 170.33 160.44 175.75 159.38C181.17 158.32 186.59 157.05 189.3 156.47" fill="none" stroke="#111" stroke-width="1.05" stroke-linejoin="round"/>
<rect x="52" y="240.3" width="3.6" height="3.6" fill="#0a0a0a"/>
<rect x="58.77" y="227.09" width="3.6" height="3.6" fill="#0a0a0a"/>
<rect x="65.55" y="215.99" width="3.6" height="3.6" fill="#0a0a0a"/>
<rect x="72.33" y="199.86" width="3.6" height="3.6" fill="#0a0a0a"/>
<rect x="79.1" y="189.29" width="3.6" height="3.6" fill="#0a0a0a"/>
<rect x="92.65" y="182.16" width="3.6" height="3.6" fill="#0a0a0a"/>
<rect x="106.2" y="171.06" width="3.6" height="3.6" fill="#0a0a0a"/>
<rect x="119.75" y="165.24" width="3.6" height="3.6" fill="#0a0a0a"/>
<rect x="133.3" y="162.6" width="3.6" height="3.6" fill="#0a0a0a"/>
<rect x="146.85" y="159.96" width="3.6" height="3.6" fill="#0a0a0a"/>
<rect x="160.4" y="159.96" width="3.6" height="3.6" fill="#0a0a0a"/>
<rect x="173.95" y="157.58" width="3.6" height="3.6" fill="#0a0a0a"/>
<rect x="187.5" y="154.67" width="3.6" height="3.6" fill="#0a0a0a"/>
<rect x="52.2" y="240.5" width="3.2" height="3.2" rx="0.7" fill="#fff" stroke="#111" stroke-width="0.9"/>
<path d="M218.5 149.7V242.5H353.2" fill="none" stroke="#2a2a2a" stroke-width="0.8"/>
<path d="M217.1 242.5H218.5" stroke="#2a2a2a" stroke-width="0.7"/>
<text x="214.5" y="244.2" text-anchor="end" font-size="4.5" class="t" stroke="#000" stroke-width="0.1">0</text>
<path d="M217.1 229.29H218.5" stroke="#2a2a2a" stroke-width="0.7"/>
<text x="214.5" y="230.99" text-anchor="end" font-size="4.5" class="t" stroke="#000" stroke-width="0.1">5</text>
<path d="M217.1 216.07H218.5" stroke="#2a2a2a" stroke-width="0.7"/>
<text x="214.5" y="217.77" text-anchor="end" font-size="4.5" class="t" stroke="#000" stroke-width="0.1">10</text>
<path d="M217.1 202.86H218.5" stroke="#2a2a2a" stroke-width="0.7"/>
<text x="214.5" y="204.56" text-anchor="end" font-size="4.5" class="t" stroke="#000" stroke-width="0.1">15</text>
<path d="M217.1 189.64H218.5" stroke="#2a2a2a" stroke-width="0.7"/>
<text x="214.5" y="191.34" text-anchor="end" font-size="4.5" class="t" stroke="#000" stroke-width="0.1">20</text>
<path d="M217.1 176.43H218.5" stroke="#2a2a2a" stroke-width="0.7"/>
<text x="214.5" y="178.13" text-anchor="end" font-size="4.5" class="t" stroke="#000" stroke-width="0.1">25</text>
<path d="M217.1 163.21H218.5" stroke="#2a2a2a" stroke-width="0.7"/>
<text x="214.5" y="164.91" text-anchor="end" font-size="4.5" class="t" stroke="#000" stroke-width="0.1">30</text>
<path d="M217.1 150H218.5" stroke="#2a2a2a" stroke-width="0.7"/>
<text x="214.5" y="151.7" text-anchor="end" font-size="4.5" class="t" stroke="#000" stroke-width="0.1">35</text>
<path d="M218.5 242.5v1.6" stroke="#2a2a2a" stroke-width="0.7"/>
<text x="218.5" y="250.3" text-anchor="middle" font-size="4.6" class="t" stroke="#000" stroke-width="0.1">0</text>
<path d="M231.94 242.5v1.6" stroke="#2a2a2a" stroke-width="0.7"/>
<text x="231.94" y="250.3" text-anchor="middle" font-size="4.6" class="t" stroke="#000" stroke-width="0.1">1</text>
<path d="M245.38 242.5v1.6" stroke="#2a2a2a" stroke-width="0.7"/>
<text x="245.38" y="250.3" text-anchor="middle" font-size="4.6" class="t" stroke="#000" stroke-width="0.1">2</text>
<path d="M258.82 242.5v1.6" stroke="#2a2a2a" stroke-width="0.7"/>
<text x="258.82" y="250.3" text-anchor="middle" font-size="4.6" class="t" stroke="#000" stroke-width="0.1">3</text>
<path d="M272.26 242.5v1.6" stroke="#2a2a2a" stroke-width="0.7"/>
<text x="272.26" y="250.3" text-anchor="middle" font-size="4.6" class="t" stroke="#000" stroke-width="0.1">4</text>
<path d="M285.7 242.5v1.6" stroke="#2a2a2a" stroke-width="0.7"/>
<text x="285.7" y="250.3" text-anchor="middle" font-size="4.6" class="t" stroke="#000" stroke-width="0.1">5</text>
<path d="M299.14 242.5v1.6" stroke="#2a2a2a" stroke-width="0.7"/>
<text x="299.14" y="250.3" text-anchor="middle" font-size="4.6" class="t" stroke="#000" stroke-width="0.1">6</text>
<path d="M312.58 242.5v1.6" stroke="#2a2a2a" stroke-width="0.7"/>
<text x="312.58" y="250.3" text-anchor="middle" font-size="4.6" class="t" stroke="#000" stroke-width="0.1">7</text>
<path d="M326.02 242.5v1.6" stroke="#2a2a2a" stroke-width="0.7"/>
<text x="326.02" y="250.3" text-anchor="middle" font-size="4.6" class="t" stroke="#000" stroke-width="0.1">8</text>
<path d="M339.46 242.5v1.6" stroke="#2a2a2a" stroke-width="0.7"/>
<text x="339.46" y="250.3" text-anchor="middle" font-size="4.6" class="t" stroke="#000" stroke-width="0.1">9</text>
<path d="M352.9 242.5v1.6" stroke="#2a2a2a" stroke-width="0.7"/>
<text x="352.9" y="250.3" text-anchor="middle" font-size="4.6" class="t" stroke="#000" stroke-width="0.1">10</text>
<text x="286.7" y="257.8" text-anchor="middle" font-size="6.05" class="t" stroke="#000" stroke-width="0.12">Time (min)</text>
<text transform="translate(205.7 196) rotate(-90)" text-anchor="middle" font-size="6.0" class="t" stroke="#000" stroke-width="0.12">Number of adherent cells</text>
<path d="M218.5 242.5C219.84 242.5 222.53 242.5 225.22 242.5C227.91 242.5 229.25 242.5 231.94 242.5C234.63 242.5 235.97 242.5 238.66 242.5C241.35 242.5 241.35 242.5 245.38 242.5C249.41 242.5 253.44 242.5 258.82 242.5C264.2 242.5 266.88 242.5 272.26 242.5C277.64 242.5 280.32 242.5 285.7 242.5C291.08 242.5 293.76 242.5 299.14 242.5C304.52 242.5 307.2 242.5 312.58 242.5C317.96 242.5 320.64 242.5 326.02 242.5C331.4 242.5 334.08 242.5 339.46 242.5C344.84 242.5 350.21 242.5 352.9 242.5" fill="none" stroke="#111" stroke-width="0.5" stroke-linejoin="round"/>
<path d="M216.65 242.5L218.5 240.65L220.35 242.5L218.5 244.35Z" fill="#0a0a0a" stroke="#0a0a0a" stroke-width="0.5" stroke-linejoin="round"/>
<path d="M223.37 242.5L225.22 240.65L227.07 242.5L225.22 244.35Z" fill="#0a0a0a" stroke="#0a0a0a" stroke-width="0.5" stroke-linejoin="round"/>
<path d="M230.09 242.5L231.94 240.65L233.79 242.5L231.94 244.35Z" fill="#0a0a0a" stroke="#0a0a0a" stroke-width="0.5" stroke-linejoin="round"/>
<path d="M236.81 242.5L238.66 240.65L240.51 242.5L238.66 244.35Z" fill="#0a0a0a" stroke="#0a0a0a" stroke-width="0.5" stroke-linejoin="round"/>
<path d="M243.53 242.5L245.38 240.65L247.23 242.5L245.38 244.35Z" fill="#0a0a0a" stroke="#0a0a0a" stroke-width="0.5" stroke-linejoin="round"/>
<path d="M256.97 242.5L258.82 240.65L260.67 242.5L258.82 244.35Z" fill="#0a0a0a" stroke="#0a0a0a" stroke-width="0.5" stroke-linejoin="round"/>
<path d="M270.41 242.5L272.26 240.65L274.11 242.5L272.26 244.35Z" fill="#0a0a0a" stroke="#0a0a0a" stroke-width="0.5" stroke-linejoin="round"/>
<path d="M283.85 242.5L285.7 240.65L287.55 242.5L285.7 244.35Z" fill="#0a0a0a" stroke="#0a0a0a" stroke-width="0.5" stroke-linejoin="round"/>
<path d="M297.29 242.5L299.14 240.65L300.99 242.5L299.14 244.35Z" fill="#0a0a0a" stroke="#0a0a0a" stroke-width="0.5" stroke-linejoin="round"/>
<path d="M310.73 242.5L312.58 240.65L314.43 242.5L312.58 244.35Z" fill="#0a0a0a" stroke="#0a0a0a" stroke-width="0.5" stroke-linejoin="round"/>
<path d="M324.17 242.5L326.02 240.65L327.87 242.5L326.02 244.35Z" fill="#0a0a0a" stroke="#0a0a0a" stroke-width="0.5" stroke-linejoin="round"/>
<path d="M337.61 242.5L339.46 240.65L341.31 242.5L339.46 244.35Z" fill="#0a0a0a" stroke="#0a0a0a" stroke-width="0.5" stroke-linejoin="round"/>
<path d="M351.05 242.5L352.9 240.65L354.75 242.5L352.9 244.35Z" fill="#0a0a0a" stroke="#0a0a0a" stroke-width="0.5" stroke-linejoin="round"/>
<path d="M258.82 235.89V233.25M256.52 233.25h4.6" fill="none" stroke="#151515" stroke-width="0.9"/>
<path d="M272.26 234.84V231.93M269.96 231.93h4.6" fill="none" stroke="#151515" stroke-width="0.9"/>
<path d="M285.7 231.66V227.96M283.4 227.96h4.6" fill="none" stroke="#151515" stroke-width="0.9"/>
<path d="M299.14 231.14V224.26M296.84 224.26h4.6" fill="none" stroke="#151515" stroke-width="0.9"/>
<path d="M312.58 229.81V222.68M310.28 222.68h4.6" fill="none" stroke="#151515" stroke-width="0.9"/>
<path d="M326.02 229.81V223.74M323.72 223.74h4.6" fill="none" stroke="#151515" stroke-width="0.9"/>
<path d="M339.46 230.34V224.26M337.16 224.26h4.6" fill="none" stroke="#151515" stroke-width="0.9"/>
<path d="M352.9 230.34V224.26M350.6 224.26h4.6" fill="none" stroke="#151515" stroke-width="0.9"/>
<path d="M218.5 242.5C219.84 242.08 222.53 241.13 225.22 240.39C227.91 239.65 229.25 239.54 231.94 238.8C234.63 238.06 235.97 236.76 238.66 236.69C241.35 236.61 241.35 238.56 245.38 238.4C249.41 238.25 253.44 236.61 258.82 235.89C264.2 235.18 266.88 235.68 272.26 234.84C277.64 233.99 280.32 232.4 285.7 231.66C291.08 230.92 293.76 231.51 299.14 231.14C304.52 230.77 307.2 230.08 312.58 229.81C317.96 229.55 320.64 229.71 326.02 229.81C331.4 229.92 334.08 230.24 339.46 230.34C344.84 230.45 350.21 230.34 352.9 230.34" fill="none" stroke="#111" stroke-width="1.05" stroke-linejoin="round"/>
<rect x="216.75" y="240.75" width="3.5" height="3.5" rx="0.9" fill="#fff" stroke="#111" stroke-width="0.85"/>
<rect x="223.47" y="238.64" width="3.5" height="3.5" rx="0.9" fill="#fff" stroke="#111" stroke-width="0.85"/>
<rect x="230.19" y="237.05" width="3.5" height="3.5" rx="0.9" fill="#fff" stroke="#111" stroke-width="0.85"/>
<rect x="236.91" y="234.94" width="3.5" height="3.5" rx="0.9" fill="#fff" stroke="#111" stroke-width="0.85"/>
<rect x="243.63" y="236.65" width="3.5" height="3.5" rx="0.9" fill="#fff" stroke="#111" stroke-width="0.85"/>
<rect x="257.07" y="234.14" width="3.5" height="3.5" rx="0.9" fill="#fff" stroke="#111" stroke-width="0.85"/>
<rect x="270.51" y="233.09" width="3.5" height="3.5" rx="0.9" fill="#fff" stroke="#111" stroke-width="0.85"/>
<rect x="283.95" y="229.91" width="3.5" height="3.5" rx="0.9" fill="#fff" stroke="#111" stroke-width="0.85"/>
<rect x="297.39" y="229.39" width="3.5" height="3.5" rx="0.9" fill="#fff" stroke="#111" stroke-width="0.85"/>
<rect x="310.83" y="228.06" width="3.5" height="3.5" rx="0.9" fill="#fff" stroke="#111" stroke-width="0.85"/>
<rect x="324.27" y="228.06" width="3.5" height="3.5" rx="0.9" fill="#fff" stroke="#111" stroke-width="0.85"/>
<rect x="337.71" y="228.59" width="3.5" height="3.5" rx="0.9" fill="#fff" stroke="#111" stroke-width="0.85"/>
<rect x="351.15" y="228.59" width="3.5" height="3.5" rx="0.9" fill="#fff" stroke="#111" stroke-width="0.85"/>
<path d="M225.22 231.93V224M222.82 224h4.8" fill="none" stroke="#151515" stroke-width="0.85"/>
<path d="M231.94 220.56V209.46M229.54 209.46h4.8" fill="none" stroke="#151515" stroke-width="0.85"/>
<path d="M238.66 210.52V201.8M236.26 201.8h4.8" fill="none" stroke="#151515" stroke-width="0.85"/>
<path d="M245.38 203.65V194.4M242.98 194.4h4.8" fill="none" stroke="#151515" stroke-width="0.85"/>
<path d="M258.82 194.93V183.3M256.42 183.3h4.8" fill="none" stroke="#151515" stroke-width="0.85"/>
<path d="M272.26 187.79V175.37M269.86 175.37h4.8" fill="none" stroke="#151515" stroke-width="0.85"/>
<path d="M285.7 185.15V172.2M283.3 172.2h4.8" fill="none" stroke="#151515" stroke-width="0.85"/>
<path d="M299.14 183.56V168.24M296.74 168.24h4.8" fill="none" stroke="#151515" stroke-width="0.85"/>
<path d="M312.58 178.54V165.59M310.18 165.59h4.8" fill="none" stroke="#151515" stroke-width="0.85"/>
<path d="M326.02 176.69V164.54M323.62 164.54h4.8" fill="none" stroke="#151515" stroke-width="0.85"/>
<path d="M339.46 174.31V162.16M337.06 162.16h4.8" fill="none" stroke="#151515" stroke-width="0.85"/>
<path d="M352.9 174.31V160.04M350.5 160.04h4.8" fill="none" stroke="#151515" stroke-width="0.85"/>
<path d="M218.5 242.5C219.84 240.39 222.53 236.32 225.22 231.93C227.91 227.54 229.25 224.85 231.94 220.56C234.63 216.28 235.97 213.9 238.66 210.52C241.35 207.14 241.35 206.77 245.38 203.65C249.41 200.53 253.44 198.1 258.82 194.93C264.2 191.76 266.88 189.75 272.26 187.79C277.64 185.84 280.32 186 285.7 185.15C291.08 184.3 293.76 184.89 299.14 183.56C304.52 182.24 307.2 179.92 312.58 178.54C317.96 177.17 320.64 177.54 326.02 176.69C331.4 175.85 334.08 174.79 339.46 174.31C344.84 173.84 350.21 174.31 352.9 174.31" fill="none" stroke="#111" stroke-width="1.05" stroke-linejoin="round"/>
<rect x="216.5" y="240.5" width="4" height="4" fill="#0a0a0a"/>
<rect x="223.22" y="229.93" width="4" height="4" fill="#0a0a0a"/>
<rect x="229.94" y="218.56" width="4" height="4" fill="#0a0a0a"/>
<rect x="236.66" y="208.52" width="4" height="4" fill="#0a0a0a"/>
<rect x="243.38" y="201.65" width="4" height="4" fill="#0a0a0a"/>
<rect x="256.82" y="192.93" width="4" height="4" fill="#0a0a0a"/>
<rect x="270.26" y="185.79" width="4" height="4" fill="#0a0a0a"/>
<rect x="283.7" y="183.15" width="4" height="4" fill="#0a0a0a"/>
<rect x="297.14" y="181.56" width="4" height="4" fill="#0a0a0a"/>
<rect x="310.58" y="176.54" width="4" height="4" fill="#0a0a0a"/>
<rect x="324.02" y="174.69" width="4" height="4" fill="#0a0a0a"/>
<rect x="337.46" y="172.31" width="4" height="4" fill="#0a0a0a"/>
<rect x="350.9" y="172.31" width="4" height="4" fill="#0a0a0a"/>
<rect x="216.9" y="240.9" width="3.2" height="3.2" rx="0.7" fill="#fff" stroke="#111" stroke-width="0.9"/>
<path d="M382.1 150.7V243.3H516.8" fill="none" stroke="#2a2a2a" stroke-width="0.8"/>
<path d="M380.7 243.3H382.1" stroke="#2a2a2a" stroke-width="0.7"/>
<text x="378.7" y="245" text-anchor="end" font-size="4.3" class="t" stroke="#000" stroke-width="0.1">0</text>
<path d="M380.7 220.23H382.1" stroke="#2a2a2a" stroke-width="0.7"/>
<text x="378.7" y="221.93" text-anchor="end" font-size="4.3" class="t" stroke="#000" stroke-width="0.1">20</text>
<path d="M380.7 197.15H382.1" stroke="#2a2a2a" stroke-width="0.7"/>
<text x="378.7" y="198.85" text-anchor="end" font-size="4.3" class="t" stroke="#000" stroke-width="0.1">40</text>
<path d="M380.7 174.07H382.1" stroke="#2a2a2a" stroke-width="0.7"/>
<text x="378.7" y="175.77" text-anchor="end" font-size="4.3" class="t" stroke="#000" stroke-width="0.1">60</text>
<path d="M380.7 151H382.1" stroke="#2a2a2a" stroke-width="0.7"/>
<text x="378.7" y="152.7" text-anchor="end" font-size="4.3" class="t" stroke="#000" stroke-width="0.1">80</text>
<path d="M382.1 243.3v1.6" stroke="#2a2a2a" stroke-width="0.7"/>
<text x="382.1" y="250.3" text-anchor="middle" font-size="4.7" class="t" stroke="#000" stroke-width="0.1">0</text>
<path d="M395.54 243.3v1.6" stroke="#2a2a2a" stroke-width="0.7"/>
<text x="395.54" y="250.3" text-anchor="middle" font-size="4.7" class="t" stroke="#000" stroke-width="0.1">1</text>
<path d="M408.98 243.3v1.6" stroke="#2a2a2a" stroke-width="0.7"/>
<text x="408.98" y="250.3" text-anchor="middle" font-size="4.7" class="t" stroke="#000" stroke-width="0.1">2</text>
<path d="M422.42 243.3v1.6" stroke="#2a2a2a" stroke-width="0.7"/>
<text x="422.42" y="250.3" text-anchor="middle" font-size="4.7" class="t" stroke="#000" stroke-width="0.1">3</text>
<path d="M435.86 243.3v1.6" stroke="#2a2a2a" stroke-width="0.7"/>
<text x="435.86" y="250.3" text-anchor="middle" font-size="4.7" class="t" stroke="#000" stroke-width="0.1">4</text>
<path d="M449.3 243.3v1.6" stroke="#2a2a2a" stroke-width="0.7"/>
<text x="449.3" y="250.3" text-anchor="middle" font-size="4.7" class="t" stroke="#000" stroke-width="0.1">5</text>
<path d="M462.74 243.3v1.6" stroke="#2a2a2a" stroke-width="0.7"/>
<text x="462.74" y="250.3" text-anchor="middle" font-size="4.7" class="t" stroke="#000" stroke-width="0.1">6</text>
<path d="M476.18 243.3v1.6" stroke="#2a2a2a" stroke-width="0.7"/>
<text x="476.18" y="250.3" text-anchor="middle" font-size="4.7" class="t" stroke="#000" stroke-width="0.1">7</text>
<path d="M489.62 243.3v1.6" stroke="#2a2a2a" stroke-width="0.7"/>
<text x="489.62" y="250.3" text-anchor="middle" font-size="4.7" class="t" stroke="#000" stroke-width="0.1">8</text>
<path d="M503.06 243.3v1.6" stroke="#2a2a2a" stroke-width="0.7"/>
<text x="503.06" y="250.3" text-anchor="middle" font-size="4.7" class="t" stroke="#000" stroke-width="0.1">9</text>
<path d="M516.5 243.3v1.6" stroke="#2a2a2a" stroke-width="0.7"/>
<text x="516.5" y="250.3" text-anchor="middle" font-size="4.7" class="t" stroke="#000" stroke-width="0.1">10</text>
<text x="449.1" y="255.9" text-anchor="middle" font-size="6.05" class="t" stroke="#000" stroke-width="0.12">Time (min)</text>
<text transform="translate(370.4 198.8) rotate(-90)" text-anchor="middle" font-size="6.0" class="t" stroke="#000" stroke-width="0.12">Number of adherent cells</text>
<path d="M422.42 233.95V224.61M420.42 224.61h4" fill="none" stroke="#151515" stroke-width="0.7"/>
<path d="M435.86 231.99V223.92M433.86 223.92h4" fill="none" stroke="#151515" stroke-width="0.7"/>
<path d="M449.3 230.26V224.26M447.3 224.26h4" fill="none" stroke="#151515" stroke-width="0.7"/>
<path d="M462.74 228.53V222.65M460.74 222.65h4" fill="none" stroke="#151515" stroke-width="0.7"/>
<path d="M476.18 226.8V219.99M474.18 219.99h4" fill="none" stroke="#151515" stroke-width="0.7"/>
<path d="M382.1 243.3C383.44 243.23 386.13 243.48 388.82 242.95C391.51 242.42 392.85 241.43 395.54 240.65C398.23 239.86 399.57 240.16 402.26 239.03C404.95 237.9 404.95 236.01 408.98 234.99C413.01 233.98 417.04 234.55 422.42 233.95C427.8 233.35 430.48 232.73 435.86 231.99C441.24 231.25 443.92 230.95 449.3 230.26C454.68 229.57 457.36 229.22 462.74 228.53C468.12 227.84 470.8 227.24 476.18 226.8C481.56 226.36 484.24 226.34 489.62 226.34C495 226.34 497.68 226.8 503.06 226.8C508.44 226.8 513.81 226.43 516.5 226.34" fill="none" stroke="#111" stroke-width="1.05" stroke-linejoin="round"/>
<circle cx="382.1" cy="243.3" r="1.6" fill="#0a0a0a"/>
<circle cx="388.82" cy="242.95" r="1.6" fill="#0a0a0a"/>
<circle cx="395.54" cy="240.65" r="1.6" fill="#0a0a0a"/>
<circle cx="402.26" cy="239.03" r="1.6" fill="#0a0a0a"/>
<circle cx="408.98" cy="234.99" r="1.6" fill="#0a0a0a"/>
<circle cx="422.42" cy="233.95" r="1.6" fill="#0a0a0a"/>
<circle cx="435.86" cy="231.99" r="1.6" fill="#0a0a0a"/>
<circle cx="449.3" cy="230.26" r="1.6" fill="#0a0a0a"/>
<circle cx="462.74" cy="228.53" r="1.6" fill="#0a0a0a"/>
<circle cx="476.18" cy="226.8" r="1.6" fill="#0a0a0a"/>
<circle cx="489.62" cy="226.34" r="1.6" fill="#0a0a0a"/>
<circle cx="503.06" cy="226.8" r="1.6" fill="#0a0a0a"/>
<circle cx="516.5" cy="226.34" r="1.6" fill="#0a0a0a"/>
<path d="M402.26 231.53V224.15M400.26 224.15h4" fill="none" stroke="#151515" stroke-width="0.75"/>
<path d="M408.98 223.69V219.99M406.98 219.99h4" fill="none" stroke="#151515" stroke-width="0.75"/>
<path d="M422.42 214.23V210.65M420.42 210.65h4" fill="none" stroke="#151515" stroke-width="0.75"/>
<path d="M435.86 203.61V200.61M433.86 200.61h4" fill="none" stroke="#151515" stroke-width="0.75"/>
<path d="M449.3 194.15V190M447.3 190h4" fill="none" stroke="#151515" stroke-width="0.75"/>
<path d="M462.74 187.69V183.07M460.74 183.07h4" fill="none" stroke="#151515" stroke-width="0.75"/>
<path d="M476.18 180.77V172.69M474.18 172.69h4" fill="none" stroke="#151515" stroke-width="0.75"/>
<path d="M489.62 175V169.23M487.62 169.23h4" fill="none" stroke="#151515" stroke-width="0.75"/>
<path d="M503.06 173.27V165.77M501.06 165.77h4" fill="none" stroke="#151515" stroke-width="0.75"/>
<path d="M516.5 173.04V165.77M514.5 165.77h4" fill="none" stroke="#151515" stroke-width="0.75"/>
<path d="M382.1 243.3C383.44 243.07 386.13 242.97 388.82 242.15C391.51 241.33 392.85 241.33 395.54 239.2C398.23 237.08 399.57 234.64 402.26 231.53C404.95 228.43 404.95 227.15 408.98 223.69C413.01 220.22 417.04 218.24 422.42 214.23C427.8 210.21 430.48 207.63 435.86 203.61C441.24 199.6 443.92 197.33 449.3 194.15C454.68 190.97 457.36 190.37 462.74 187.69C468.12 185.01 470.8 183.31 476.18 180.77C481.56 178.23 484.24 176.5 489.62 175C495 173.5 497.68 173.66 503.06 173.27C508.44 172.88 513.81 173.08 516.5 173.04" fill="none" stroke="#111" stroke-width="1.05" stroke-linejoin="round"/>
<rect x="380.4" y="241.6" width="3.4" height="3.4" fill="#0a0a0a"/>
<rect x="387.12" y="240.45" width="3.4" height="3.4" fill="#0a0a0a"/>
<rect x="393.84" y="237.5" width="3.4" height="3.4" fill="#0a0a0a"/>
<rect x="400.56" y="229.83" width="3.4" height="3.4" fill="#0a0a0a"/>
<rect x="407.28" y="221.99" width="3.4" height="3.4" fill="#0a0a0a"/>
<rect x="420.72" y="212.53" width="3.4" height="3.4" fill="#0a0a0a"/>
<rect x="434.16" y="201.91" width="3.4" height="3.4" fill="#0a0a0a"/>
<rect x="447.6" y="192.45" width="3.4" height="3.4" fill="#0a0a0a"/>
<rect x="461.04" y="185.99" width="3.4" height="3.4" fill="#0a0a0a"/>
<rect x="474.48" y="179.07" width="3.4" height="3.4" fill="#0a0a0a"/>
<rect x="487.92" y="173.3" width="3.4" height="3.4" fill="#0a0a0a"/>
<rect x="501.36" y="171.57" width="3.4" height="3.4" fill="#0a0a0a"/>
<rect x="514.8" y="171.34" width="3.4" height="3.4" fill="#0a0a0a"/>
<path d="M395.54 238.34V234.19M393.54 234.19h4" fill="none" stroke="#151515" stroke-width="0.75"/>
<path d="M408.98 233.38V227.84M406.98 227.84h4" fill="none" stroke="#151515" stroke-width="0.75"/>
<path d="M422.42 232.22V222.65M420.42 222.65h4" fill="none" stroke="#151515" stroke-width="0.75"/>
<path d="M435.86 230.38V218.73M433.86 218.73h4" fill="none" stroke="#151515" stroke-width="0.75"/>
<path d="M449.3 228.65V217.8M447.3 217.8h4" fill="none" stroke="#151515" stroke-width="0.75"/>
<path d="M462.74 225.99V217.34M460.74 217.34h4" fill="none" stroke="#151515" stroke-width="0.75"/>
<path d="M476.18 223.11V216.76M474.18 216.76h4" fill="none" stroke="#151515" stroke-width="0.75"/>
<path d="M489.62 220.57V216.42M487.62 216.42h4" fill="none" stroke="#151515" stroke-width="0.75"/>
<path d="M503.06 221.38V218.15M501.06 218.15h4" fill="none" stroke="#151515" stroke-width="0.75"/>
<path d="M516.5 220.57V217.34M514.5 217.34h4" fill="none" stroke="#151515" stroke-width="0.75"/>
<path d="M382.1 243.3C383.44 243.14 386.13 243.48 388.82 242.49C391.51 241.5 392.85 239.45 395.54 238.34C398.23 237.23 399.57 237.95 402.26 236.95C404.95 235.96 404.95 234.32 408.98 233.38C413.01 232.43 417.04 232.82 422.42 232.22C427.8 231.62 430.48 231.09 435.86 230.38C441.24 229.66 443.92 229.52 449.3 228.65C454.68 227.77 457.36 227.1 462.74 225.99C468.12 224.89 470.8 224.19 476.18 223.11C481.56 222.02 484.24 220.92 489.62 220.57C495 220.23 497.68 221.38 503.06 221.38C508.44 221.38 513.81 220.73 516.5 220.57" fill="none" stroke="#111" stroke-width="1.05" stroke-linejoin="round"/>
<circle cx="382.1" cy="243.3" r="1.75" fill="#fff" stroke="#111" stroke-width="0.9"/>
<circle cx="388.82" cy="242.49" r="1.75" fill="#fff" stroke="#111" stroke-width="0.9"/>
<circle cx="395.54" cy="238.34" r="1.75" fill="#fff" stroke="#111" stroke-width="0.9"/>
<circle cx="402.26" cy="236.95" r="1.75" fill="#fff" stroke="#111" stroke-width="0.9"/>
<circle cx="408.98" cy="233.38" r="1.75" fill="#fff" stroke="#111" stroke-width="0.9"/>
<circle cx="422.42" cy="232.22" r="1.75" fill="#fff" stroke="#111" stroke-width="0.9"/>
<circle cx="435.86" cy="230.38" r="1.75" fill="#fff" stroke="#111" stroke-width="0.9"/>
<circle cx="449.3" cy="228.65" r="1.75" fill="#fff" stroke="#111" stroke-width="0.9"/>
<circle cx="462.74" cy="225.99" r="1.75" fill="#fff" stroke="#111" stroke-width="0.9"/>
<circle cx="476.18" cy="223.11" r="1.75" fill="#fff" stroke="#111" stroke-width="0.9"/>
<circle cx="489.62" cy="220.57" r="1.75" fill="#fff" stroke="#111" stroke-width="0.9"/>
<circle cx="503.06" cy="221.38" r="1.75" fill="#fff" stroke="#111" stroke-width="0.9"/>
<circle cx="516.5" cy="220.57" r="1.75" fill="#fff" stroke="#111" stroke-width="0.9"/>
<rect x="380.5" y="241.7" width="3.2" height="3.2" rx="0.7" fill="#fff" stroke="#111" stroke-width="0.9"/>
</svg>
</body></html>
